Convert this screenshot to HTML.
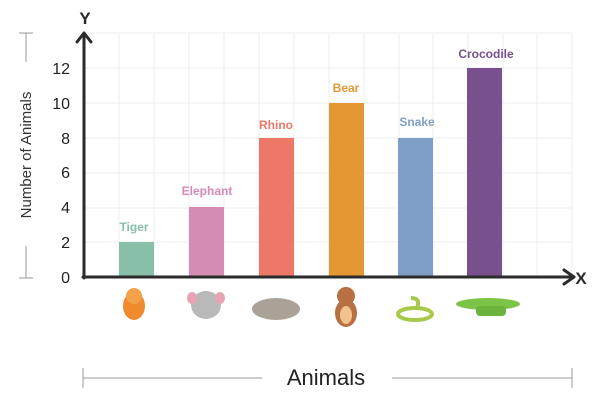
<!DOCTYPE html>
<html><head><style>body{margin:0;background:#fff}svg{display:block}text{font-family:"Liberation Sans",sans-serif}</style></head><body>
<svg width="600" height="406" viewBox="0 0 600 406">
<g stroke="#ececec" stroke-width="1">
<line x1="119" y1="33" x2="119" y2="277"/><line x1="154" y1="33" x2="154" y2="277"/><line x1="189" y1="33" x2="189" y2="277"/><line x1="224" y1="33" x2="224" y2="277"/><line x1="259" y1="33" x2="259" y2="277"/><line x1="294" y1="33" x2="294" y2="277"/><line x1="329" y1="33" x2="329" y2="277"/><line x1="364" y1="33" x2="364" y2="277"/><line x1="399" y1="33" x2="399" y2="277"/><line x1="433" y1="33" x2="433" y2="277"/><line x1="468" y1="33" x2="468" y2="277"/><line x1="503" y1="33" x2="503" y2="277"/><line x1="537" y1="33" x2="537" y2="277"/><line x1="572" y1="33" x2="572" y2="277"/>
<line x1="84" y1="33" x2="572" y2="33"/><line x1="84" y1="68" x2="572" y2="68"/><line x1="84" y1="103" x2="572" y2="103"/><line x1="84" y1="138" x2="572" y2="138"/><line x1="84" y1="173" x2="572" y2="173"/><line x1="84" y1="208" x2="572" y2="208"/><line x1="84" y1="242" x2="572" y2="242"/>
</g>
<rect x="119" y="242" width="35" height="35" fill="#88bfa8"/>
<rect x="189" y="207" width="35" height="70" fill="#d48bb6"/>
<rect x="259" y="138" width="35" height="139" fill="#ee7868"/>
<rect x="329" y="103" width="35" height="174" fill="#e59734"/>
<rect x="398" y="138" width="35" height="139" fill="#7f9fc9"/>
<rect x="467" y="68" width="35" height="209" fill="#78508d"/>
<g font-weight="bold" font-size="12" text-anchor="middle">
<text x="134" y="231" fill="#88bfa8">Tiger</text>
<text x="207" y="195" fill="#d48bb6">Elephant</text>
<text x="276" y="129" fill="#ee7868">Rhino</text>
<text x="346" y="92" fill="#e59734">Bear</text>
<text x="417" y="126" fill="#7f9fc9">Snake</text>
<text x="486" y="58" fill="#78508d">Crocodile</text>
</g>
<g stroke="#2b2b2b" stroke-width="3" fill="none" stroke-linecap="round" stroke-linejoin="round">
<line x1="84" y1="278" x2="84" y2="34"/><polyline points="77,42 84,33 91,42"/>
<line x1="83" y1="277" x2="574" y2="277"/><polyline points="564,270 574,277 564,284"/>
</g>
<text x="85" y="24" font-size="17" font-weight="bold" text-anchor="middle" fill="#2b2b2b">Y</text>
<text x="581" y="284" font-size="17" font-weight="bold" text-anchor="middle" fill="#2b2b2b">X</text>
<g font-size="16" fill="#222" text-anchor="end">
<text x="70" y="283">0</text><text x="70" y="248">2</text><text x="70" y="213">4</text><text x="70" y="178">6</text><text x="70" y="144">8</text><text x="70" y="109">10</text><text x="70" y="74">12</text>
</g>
<g stroke="#999" stroke-width="1">
<line x1="26" y1="33" x2="26" y2="62"/><line x1="19" y1="33" x2="33" y2="33"/>
<line x1="26" y1="246" x2="26" y2="278"/><line x1="19" y1="278" x2="33" y2="278"/>
<line x1="83" y1="378" x2="262" y2="378"/><line x1="83" y1="368" x2="83" y2="388"/>
<line x1="392" y1="378" x2="572" y2="378"/><line x1="572" y1="368" x2="572" y2="388"/>
</g>
<text transform="translate(31,155) rotate(-90)" font-size="15" text-anchor="middle" fill="#333">Number of Animals</text>
<text x="326" y="385" font-size="22" text-anchor="middle" fill="#222">Animals</text>
<g>
<ellipse cx="134" cy="306" rx="11" ry="14" fill="#f08a2c"/><circle cx="134" cy="296" r="8" fill="#f5a04a"/>
<ellipse cx="206" cy="305" rx="15" ry="14" fill="#b9b9b9"/><ellipse cx="192" cy="298" rx="5" ry="6" fill="#e8a4b4"/><ellipse cx="220" cy="298" rx="5" ry="6" fill="#e8a4b4"/>
<ellipse cx="276" cy="309" rx="24" ry="11" fill="#aaa297"/>
<ellipse cx="346" cy="313" rx="11" ry="14" fill="#b86f42"/><circle cx="346" cy="296" r="9" fill="#b86f42"/><ellipse cx="346" cy="315" rx="6" ry="9" fill="#f0c28c"/>
<ellipse cx="415" cy="314" rx="17" ry="6" fill="none" stroke="#a8c84a" stroke-width="4"/><path d="M411 298 q10 0 6 10" stroke="#a8c84a" stroke-width="4" fill="none"/>
<ellipse cx="488" cy="304" rx="32" ry="6" fill="#7cc447"/><rect x="476" y="306" width="30" height="10" rx="4" fill="#6bb33a"/>
</g>
</svg>
</body></html>
